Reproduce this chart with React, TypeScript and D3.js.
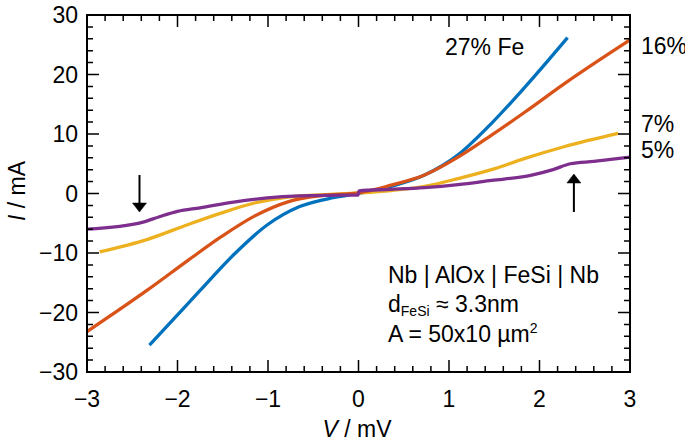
import React from "react";
import * as d3 from "d3";

// ---- data (V in mV, I in mA) ----
const vFe27 = [-2.31, -2.0, -1.75, -1.38, -1.01, -0.65, -0.28, 0, 0.36, 0.73, 1.1, 1.47, 1.84, 2.31];
const iFe27 = [-25.5, -20.4, -16.3, -10.3, -5.3, -2.2, -0.7, 0.0, 1.2, 3.1, 6.5, 11.8, 17.9, 26.2];

const vFe16 = [-3.0, -2.33, -1.88, -1.52, -1.15, -0.78, -0.4, 0, 0.36, 0.73, 1.1, 1.47, 1.84, 2.28, 3.0];
const iFe16 = [-23.2, -16.2, -11.2, -7.3, -3.8, -1.4, -0.35, 0.1, 1.4, 3.1, 6.1, 9.8, 13.7, 18.5, 25.8];

const vFe7 = [-2.86, -2.33, -1.88, -1.52, -1.15, -0.78, -0.4, 0, 0.36, 0.73, 1.1, 1.47, 1.84, 2.28, 2.87];
const iFe7 = [-9.8, -7.7, -5.2, -3.3, -1.6, -0.6, -0.2, 0.1, 0.5, 1.2, 2.5, 4.0, 5.9, 7.9, 10.1];

const vFe5 = [-3.0, -2.38, -2.2, -2.0, -1.75, -1.38, -1.01, -0.65, -0.3, -0.005, 0.005, 0.36, 0.73, 1.1, 1.47, 1.89, 2.15, 2.34, 2.6, 3.0];
const iFe5 = [-6.0, -4.8, -3.9, -3.0, -2.4, -1.45, -0.75, -0.4, -0.3, -0.25, 0.45, 0.7, 1.0, 1.5, 2.2, 3.0, 4.0, 5.0, 5.4, 6.1];

const seriesNames = ["27%", "16%", "7%", "5%"];
const seriesColors = ["#0072BD", "#D95319", "#EDB120", "#7E2F8E"];
const drawOrder = [0, 2, 1, 3];

const xMajorTicks = [-3, -2, -1, 0, 1, 2, 3];
const yMajorTicks = [-30, -20, -10, 0, 10, 20, 30];

const W = 685;
const H = 445;
const L = 87, R = 630, T = 15, B = 372;
const FONT = "'Liberation Sans', Arial, Helvetica, sans-serif";
const FS = 23;

export default function App() {
  const x = d3.scaleLinear().domain([-3, 3]).range([L, R]);
  const y = d3.scaleLinear().domain([-30, 30]).range([B, T]);

  const all = [
    vFe27.map((v, i) => [v, iFe27[i]]),
    vFe16.map((v, i) => [v, iFe16[i]]),
    vFe7.map((v, i) => [v, iFe7[i]]),
    vFe5.map((v, i) => [v, iFe5[i]]),
  ];
  const line = d3
    .line<number[]>()
    .x((d) => x(d[0]))
    .y((d) => y(d[1]))
    .curve(d3.curveMonotoneX);

  const xMinor = d3.range(-3, 3.0001, 0.2).map((v) => Math.round(v * 10) / 10);
  const yMinor = d3.range(-30, 30.0001, 2);
  const MAJ = 12, MIN = 6;

  const tickPath: string[] = [];
  xMinor.forEach((v) => {
    const isMaj = Math.abs(v - Math.round(v)) < 1e-6;
    const len = isMaj ? MAJ : MIN;
    const px = x(v);
    tickPath.push(`M${px},${B}V${B - len}`);
    tickPath.push(`M${px},${T}V${T + len}`);
  });
  yMinor.forEach((v) => {
    const isMaj = v % 10 === 0;
    const len = isMaj ? MAJ : MIN;
    const py = y(v);
    tickPath.push(`M${L},${py}H${L + len}`);
    tickPath.push(`M${R},${py}H${R - len}`);
  });

  return (
    <svg
      width={W}
      height={H}
      style={{ position: "absolute", left: 0, top: 0, background: "#fff" }}
      fontFamily={FONT}
    >
      {drawOrder.map((k) => (
        <path
          key={k}
          d={line(all[k] as number[][]) || ""}
          fill="none"
          stroke={seriesColors[k]}
          strokeWidth={3.3}
          strokeLinejoin="round"
        />
      ))}

      <path d={tickPath.join("")} stroke="#000" strokeWidth={1.5} fill="none" />
      <rect x={L} y={T} width={R - L} height={B - T} fill="none" stroke="#000" strokeWidth={2} />

      {yMajorTicks.map((v) => (
        <text key={v} x={L - 9} y={y(v)} dy="0.36em" textAnchor="end" fontSize={FS} fill="#000">
          {v < 0 ? "\u2212" + Math.abs(v) : String(v)}
        </text>
      ))}
      {xMajorTicks.map((v) => (
        <text key={v} x={x(v)} y={407} textAnchor="middle" fontSize={FS} fill="#000">
          {v < 0 ? "\u2212" + Math.abs(v) : String(v)}
        </text>
      ))}

      <text x={357} y={437} textAnchor="middle" fontSize={FS} fill="#000">
        <tspan fontStyle="italic">V</tspan> / mV
      </text>
      <text transform="translate(25,191) rotate(-90)" textAnchor="middle" fontSize={FS} fill="#000">
        <tspan fontStyle="italic">I</tspan> / mA
      </text>

      {/* series labels */}
      <text x={445} y={55} fontSize={FS} fill="#000">{seriesNames[0]} Fe</text>
      <text x={641} y={54} fontSize={FS} fill="#000">{seriesNames[1]}</text>
      <text x={641} y={132} fontSize={FS} fill="#000">{seriesNames[2]}</text>
      <text x={641} y={158} fontSize={FS} fill="#000">{seriesNames[3]}</text>

      {/* arrows */}
      <g stroke="#000" strokeWidth={2} fill="#000">
        <line x1={x(-2.42)} y1={175} x2={x(-2.42)} y2={203} />
        <path d={`M${x(-2.42) - 7},${203}L${x(-2.42) + 7},${203}L${x(-2.42)},${212}Z`} strokeWidth={0.5} />
        <line x1={x(2.38)} y1={212} x2={x(2.38)} y2={183} />
        <path d={`M${x(2.38) - 7},${183}L${x(2.38) + 7},${183}L${x(2.38)},${174}Z`} strokeWidth={0.5} />
      </g>

      {/* info box */}
      <text x={388} y={283} fontSize={FS} fill="#000">Nb | AlOx | FeSi | Nb</text>
      <text x={388} y={312} fontSize={FS} fill="#000">
        d<tspan fontSize={14} dy={4}>FeSi</tspan>
        <tspan dy={-4}> ≈ 3.3nm</tspan>
      </text>
      <text x={388} y={342} fontSize={FS} fill="#000">
        A = 50x10 µm<tspan fontSize={14} dy={-9}>2</tspan>
      </text>
    </svg>
  );
}
